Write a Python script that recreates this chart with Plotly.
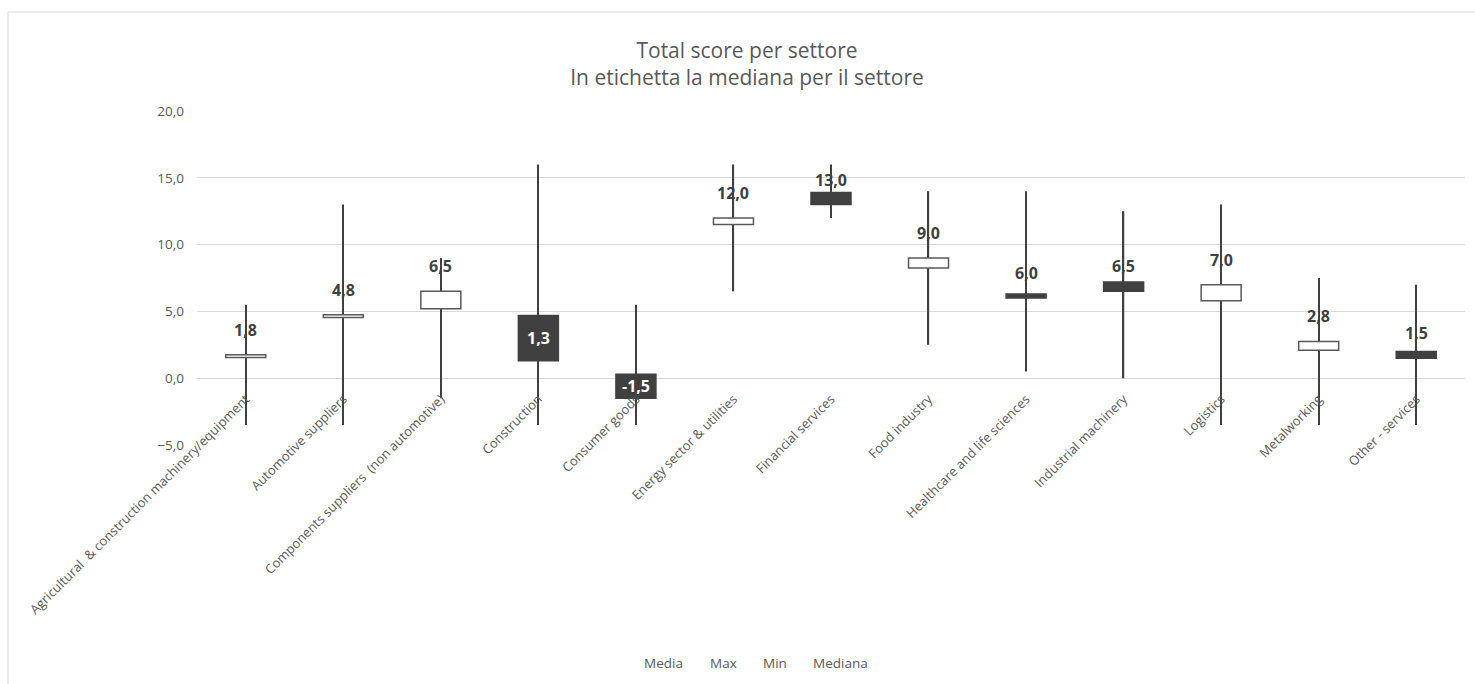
import plotly.graph_objects as go
from decimal import Decimal, ROUND_HALF_UP

categories = [
    "Agricultural  & construction machinery/equipment",
    "Automotive suppliers",
    "Components suppliers  (non automotive)",
    "Construction",
    "Consumer goods",
    "Energy sector & utilities",
    "Financial services",
    "Food industry",
    "Healthcare and life sciences",
    "Industrial machinery",
    "Logistics",
    "Metalworking",
    "Other - services",
]
media = [1.55, 4.55, 5.2, 4.7, 0.3, 11.5, 13.9, 8.25, 6.3, 7.2, 5.8, 2.1, 2.0]
max_vals = [5.5, 13.0, 9.0, 16.0, 5.5, 16.0, 16.0, 14.0, 14.0, 12.5, 13.0, 7.5, 7.0]
min_vals = [-3.5, -3.5, -1.5, -3.5, -3.5, 6.5, 12.0, 2.5, 0.5, 0.0, -3.5, -3.5, -3.5]
mediana = [1.75, 4.75, 6.5, 1.3, -1.5, 12.0, 13.0, 9.0, 6.0, 6.5, 7.0, 2.75, 1.5]

series_names = ["Media", "Max", "Min", "Mediana"]
legend_centers_px = [663, 723, 775, 840]

TXT = "#595959"
DARK = "#404040"
FONT = "Open Sans"

L, R, T, B = 197, 10, 111, 239
PW, PH = 1475 - L - R, 684 - T - B


def fmt(v):
    s = str(Decimal(str(v)).quantize(Decimal("0.1"), rounding=ROUND_HALF_UP))
    return s.replace(".", ",")


fig = go.Figure()

# whiskers (thin bars, so that boxes are drawn on top)
fig.add_trace(go.Bar(
    x=categories,
    base=min_vals,
    y=[h - l for h, l in zip(max_vals, min_vals)],
    width=0.013,
    marker=dict(color=DARK, line=dict(width=0)),
    name="Max / Min", showlegend=False, hoverinfo="skip",
))

up_base, up_h, dn_base, dn_h = [], [], [], []
for o, c in zip(media, mediana):
    if c >= o:
        up_base.append(o); up_h.append(c - o); dn_base.append(None); dn_h.append(None)
    else:
        dn_base.append(c); dn_h.append(o - c); up_base.append(None); up_h.append(None)

fig.add_trace(go.Bar(
    x=categories, base=up_base, y=up_h, width=0.41,
    marker=dict(color="white", line=dict(color=TXT, width=1.5)),
    showlegend=False, hoverinfo="skip",
))
fig.add_trace(go.Bar(
    x=categories, base=dn_base, y=dn_h, width=0.41,
    marker=dict(color=DARK, line=dict(color=DARK, width=1.5)),
    showlegend=False, hoverinfo="skip",
))

# median labels
annotations = []
for cat, o, c in zip(categories, media, mediana):
    if c < o and (o - c) > 1.5:
        annotations.append(dict(
            x=cat, y=(o + c) / 2, text="<b>" + fmt(c) + "</b>", showarrow=False,
            font=dict(family=FONT, size=16, color="white"),
        ))
    else:
        annotations.append(dict(
            x=cat, y=c, yshift=25, text="<b>" + fmt(c) + "</b>", showarrow=False,
            font=dict(family=FONT, size=16, color=DARK),
        ))

# legend (text only, as in the original)
for n, cx in zip(series_names, legend_centers_px):
    annotations.append(dict(
        x=(cx - L) / PW, xref="paper", y=(T + PH - 663) / PH, yref="paper",
        text=n, showarrow=False, xanchor="center", yanchor="middle",
        font=dict(family=FONT, size=13.5, color=TXT),
    ))

fig.update_layout(
    width=1475, height=684,
    margin=dict(l=L, r=R, t=T, b=B),
    paper_bgcolor="white", plot_bgcolor="white",
    separators=",.",
    barmode="overlay",
    showlegend=False,
    font=dict(family=FONT, color=TXT),
    title=dict(
        text="Total score per settore<br>In etichetta la mediana per il settore",
        x=747 / 1475, xref="container", xanchor="center",
        y=1 - 58 / 684, yref="container", yanchor="middle",
        font=dict(family=FONT, size=21, color=TXT),
    ),
    xaxis=dict(
        type="category",
        anchor="free", position=(T + PH - 388) / PH,
        showline=False, showgrid=False, zeroline=False,
        ticks="", tickangle=-45,
        tickfont=dict(family=FONT, size=13, color=TXT),
        automargin=False,
    ),
    yaxis=dict(
        range=[-5, 20], dtick=5, tickformat=".1f",
        showgrid=True, gridcolor="#d9d9d9", gridwidth=1,
        zeroline=False, showline=False, ticks="",
        tickfont=dict(family=FONT, size=13.5, color=TXT),
        ticklabelstandoff=12,
        automargin=False,
    ),
    annotations=annotations,
    shapes=[dict(
        type="rect", xref="paper", yref="paper",
        x0=(8 - L) / PW, x1=(1500 - L) / PW,
        y0=(T + PH - 700) / PH, y1=(T + PH - 12) / PH,
        line=dict(color="#d9d9d9", width=1), fillcolor="rgba(0,0,0,0)",
        layer="below",
    )],
)

fig.write_html("out.html")
